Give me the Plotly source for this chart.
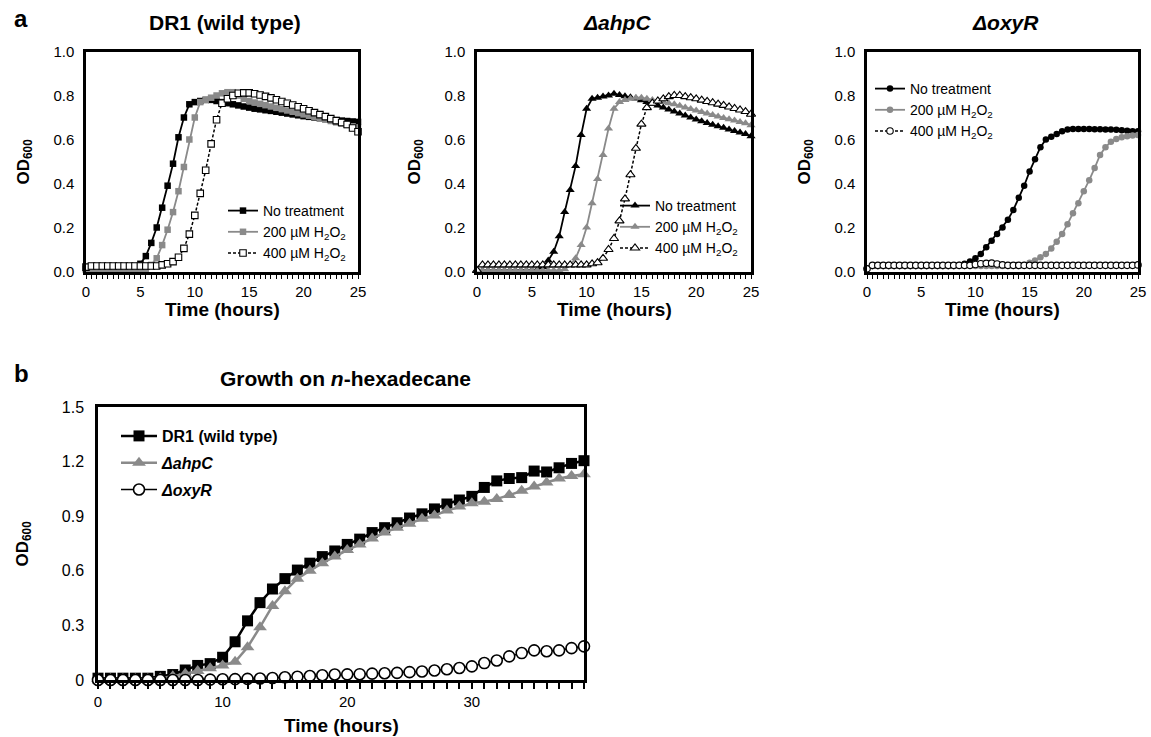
import plotly.graph_objects as go

# ---------------- data ----------------
time_a = [0, 0.5, 1, 1.5, 2, 2.5, 3, 3.5, 4, 4.5,
          5, 5.5, 6, 6.5, 7, 7.5, 8, 8.5, 9, 9.5,
          10, 10.5, 11, 11.5, 12, 12.5, 13, 13.5, 14, 14.5,
          15, 15.5, 16, 16.5, 17, 17.5, 18, 18.5, 19, 19.5,
          20, 20.5, 21, 21.5, 22, 22.5, 23, 23.5, 24, 24.5,
          25]

dr1_nt = [0.01, 0.008, 0.006, 0.006, 0.006, 0.006, 0.008, 0.01, 0.013, 0.02,
          0.035, 0.07, 0.13, 0.2, 0.29, 0.39, 0.49, 0.61, 0.7, 0.76,
          0.77, 0.775, 0.78, 0.78, 0.775, 0.77, 0.765, 0.76, 0.755, 0.75,
          0.745, 0.74, 0.737, 0.733, 0.73, 0.726, 0.722, 0.718, 0.714, 0.71,
          0.706, 0.703, 0.7, 0.697, 0.694, 0.691, 0.688, 0.686, 0.684, 0.682,
          0.68]
dr1_200 = [0.01, 0.006, 0.005, 0.005, 0.005, 0.005, 0.005, 0.005, 0.006, 0.007,
           0.008, 0.012, 0.03, 0.06, 0.12, 0.19, 0.27, 0.365, 0.475, 0.6,
           0.7, 0.77, 0.78, 0.79, 0.8, 0.81, 0.815, 0.815, 0.8, 0.785,
           0.775, 0.768, 0.762, 0.756, 0.75, 0.744, 0.738, 0.732, 0.726, 0.72,
           0.714, 0.708, 0.702, 0.696, 0.69, 0.684, 0.678, 0.672, 0.666, 0.66,
           0.655]
dr1_400 = [0.02, 0.025, 0.025, 0.025, 0.025, 0.025, 0.025, 0.025, 0.025, 0.025,
           0.025, 0.025, 0.025, 0.025, 0.03, 0.035, 0.045, 0.065, 0.105, 0.17,
           0.255, 0.355, 0.46, 0.58, 0.69, 0.765, 0.785, 0.8, 0.81, 0.812,
           0.812, 0.808, 0.802, 0.796, 0.789, 0.781, 0.773, 0.765, 0.757, 0.749,
           0.74, 0.731, 0.722, 0.713, 0.704, 0.695, 0.686, 0.677, 0.668, 0.652,
           0.635]

ahpc_nt = [0.005, 0.005, 0.005, 0.005, 0.005, 0.005, 0.005, 0.005, 0.005, 0.005,
           0.005, 0.008, 0.02, 0.05, 0.09, 0.16, 0.27, 0.37, 0.48, 0.62,
           0.74, 0.785, 0.79, 0.795, 0.8, 0.808, 0.802, 0.797, 0.792, 0.786,
           0.778, 0.77, 0.762, 0.754, 0.745, 0.736, 0.727, 0.718, 0.709, 0.7,
           0.691, 0.683, 0.675, 0.667, 0.66, 0.653, 0.646, 0.639, 0.632, 0.625,
           0.615]
ahpc_200 = [0.005, 0.005, 0.005, 0.005, 0.005, 0.005, 0.005, 0.005, 0.005, 0.005,
            0.005, 0.005, 0.005, 0.005, 0.005, 0.005, 0.01, 0.03, 0.06, 0.12,
            0.2, 0.31, 0.42, 0.53, 0.65, 0.74, 0.77, 0.78, 0.785, 0.79,
            0.79, 0.785, 0.78, 0.775, 0.77, 0.765, 0.76, 0.753, 0.746, 0.739,
            0.732, 0.725, 0.718, 0.711, 0.704, 0.698, 0.692, 0.686, 0.68, 0.674,
            0.665]
ahpc_400 = [0.005, 0.03, 0.03, 0.03, 0.03, 0.03, 0.03, 0.03, 0.03, 0.03,
            0.03, 0.03, 0.03, 0.03, 0.03, 0.03, 0.03, 0.03, 0.03, 0.03,
            0.03, 0.035, 0.04, 0.06, 0.1, 0.15, 0.23, 0.33, 0.44, 0.56,
            0.67, 0.745, 0.765, 0.775, 0.785, 0.795, 0.8, 0.8, 0.795, 0.79,
            0.785, 0.779, 0.773, 0.767, 0.761, 0.755, 0.748, 0.741, 0.734, 0.727,
            0.715]

oxyr_nt = [0.015, 0.025, 0.025, 0.025, 0.025, 0.025, 0.025, 0.025, 0.025, 0.025,
           0.025, 0.025, 0.025, 0.025, 0.025, 0.025, 0.025, 0.03, 0.035, 0.045,
           0.06, 0.08, 0.11, 0.14, 0.17, 0.2, 0.235, 0.28, 0.335, 0.39,
           0.455, 0.51, 0.565, 0.6, 0.613, 0.625, 0.637, 0.645, 0.648, 0.648,
           0.648, 0.648, 0.647, 0.647, 0.646, 0.645, 0.644, 0.642, 0.64, 0.638,
           0.637]
oxyr_200 = [0.015, 0.025, 0.025, 0.025, 0.025, 0.025, 0.025, 0.025, 0.025, 0.025,
            0.025, 0.025, 0.025, 0.025, 0.025, 0.025, 0.025, 0.025, 0.025, 0.025,
            0.025, 0.025, 0.025, 0.025, 0.025, 0.025, 0.025, 0.025, 0.025, 0.03,
            0.04, 0.05, 0.065, 0.08, 0.105, 0.135, 0.17, 0.215, 0.265, 0.31,
            0.365, 0.415, 0.47, 0.53, 0.565, 0.59, 0.602, 0.61, 0.615, 0.618,
            0.62]
oxyr_400 = [0.012, 0.028, 0.028, 0.028, 0.028, 0.028, 0.028, 0.028, 0.028, 0.028,
            0.028, 0.028, 0.028, 0.028, 0.028, 0.028, 0.028, 0.028, 0.028, 0.028,
            0.032, 0.035, 0.037, 0.038, 0.034, 0.03, 0.028, 0.028, 0.028, 0.028,
            0.028, 0.028, 0.028, 0.028, 0.028, 0.028, 0.028, 0.028, 0.028, 0.028,
            0.028, 0.028, 0.028, 0.028, 0.028, 0.028, 0.028, 0.028, 0.028, 0.028,
            0.03]

time_b = [0, 1, 2, 3, 4, 5, 6, 7, 8, 9,
          10, 11, 12, 13, 14, 15, 16, 17, 18, 19,
          20, 21, 22, 23, 24, 25, 26, 27, 28, 29,
          30, 31, 32, 33, 34, 35, 36, 37, 38, 39]
hex_dr1 = [0.01, 0.01, 0.01, 0.01, 0.01, 0.02, 0.03, 0.055, 0.08, 0.09,
           0.125, 0.21, 0.325, 0.425, 0.5, 0.557, 0.604, 0.642, 0.678, 0.709,
           0.745, 0.774, 0.81, 0.837, 0.864, 0.89, 0.913, 0.94, 0.967, 0.989,
           1.009, 1.058, 1.094, 1.107, 1.112, 1.148, 1.143, 1.166, 1.19, 1.205]
hex_ahpc = [0.005, 0.005, 0.005, 0.005, 0.005, 0.01, 0.02, 0.035, 0.05, 0.065,
            0.08, 0.1, 0.18, 0.29, 0.407, 0.488, 0.557, 0.6, 0.642, 0.678,
            0.714, 0.745, 0.777, 0.81, 0.837, 0.859, 0.886, 0.904, 0.931, 0.953,
            0.971, 0.98, 0.995, 1.016, 1.04, 1.063, 1.085, 1.107, 1.121, 1.13]
hex_oxyr = [0.0, 0.0, 0.0, 0.0, 0.0, 0.0, 0.0, 0.0, 0.0, 0.002,
            0.004, 0.005, 0.006, 0.008, 0.011, 0.015, 0.018, 0.022, 0.026, 0.03,
            0.031, 0.032, 0.035, 0.037, 0.039, 0.043, 0.047, 0.052, 0.059, 0.066,
            0.075, 0.093, 0.107, 0.13, 0.148, 0.163, 0.158, 0.163, 0.175, 0.185]

treat_labels = ["No treatment", "200 µM H<sub>2</sub>O<sub>2</sub>", "400 µM H<sub>2</sub>O<sub>2</sub>"]
strain_labels = ["<b>DR1 (wild type)</b>", "<b><i>ΔahpC</i></b>", "<b><i>ΔoxyR</i></b>"]
panel_titles = ["<b>DR1 (wild type)</b>", "<b><i>ΔahpC</i></b>", "<b><i>ΔoxyR</i></b>"]
ya_ticks = [0, 0.2, 0.4, 0.6, 0.8, 1.0]
ya_text = ["0.0", "0.2", "0.4", "0.6", "0.8", "1.0"]
yb_ticks = [0, 0.3, 0.6, 0.9, 1.2, 1.5]
yb_text = ["0", "0.3", "0.6", "0.9", "1.2", "1.5"]

# ---------------- layout helpers ----------------
W, H = 1151, 737
FONT = "Arial, Liberation Sans, sans-serif"
BLACK = "#000000"
GRAY = "#8a8a8a"

def px_x(p):
    return p / W

def px_y(p):
    return 1 - p / H

def label(fig, x, y, text, size, angle=0, xanchor="center"):
    fig.add_annotation(x=px_x(x), y=px_y(y), xref="paper", yref="paper",
                       xanchor=xanchor, yanchor="middle", text=text,
                       textangle=angle, showarrow=False,
                       font=dict(size=size, color=BLACK, family=FONT))

fig = go.Figure()

panels_a = [
    (dict(x0=86, x1=358), [dr1_nt, dr1_200, dr1_400], "square", 6.5, "legend"),
    (dict(x0=477, x1=751), [ahpc_nt, ahpc_200, ahpc_400], "triangle-up", 8, "legend2"),
    (dict(x0=867, x1=1138), [oxyr_nt, oxyr_200, oxyr_400], "circle", 6.5, "legend3"),
]
top_a, bot_a = 51.5, 271.5

for i, (pos, series, sym, msize, leg) in enumerate(panels_a):
    k = "" if i == 0 else str(i + 1)
    styles = [
        dict(line=dict(color=BLACK, width=1.8),
             marker=dict(symbol=sym, size=msize, color=BLACK)),
        dict(line=dict(color=GRAY, width=1.8),
             marker=dict(symbol=sym, size=msize, color=GRAY)),
        dict(line=dict(color=BLACK, width=1.5, dash="3px,2px"),
             marker=dict(symbol=sym, size=msize, color="white",
                         line=dict(color=BLACK, width=1.1))),
    ]
    for j, ys in enumerate(series):
        fig.add_trace(go.Scatter(
            x=time_a, y=ys, mode="lines+markers", name=treat_labels[j],
            xaxis="x" + k, yaxis="y" + k, legend=leg, legendgroup=f"g{i}{j}",
            cliponaxis=False, **styles[j]))
    fig.layout["xaxis" + k] = dict(
        domain=[px_x(pos["x0"]), px_x(pos["x1"])], range=[0, 25],
        anchor="y" + k, showline=True, linecolor=BLACK, linewidth=2.5, mirror=True,
        showgrid=False, zeroline=False, ticks="outside", ticklen=5, tickwidth=1.3,
        tickcolor=BLACK, tickmode="array", tickvals=[0, 5, 10, 15, 20, 25],
        minor=dict(dtick=0.5, ticks="outside", ticklen=5, tickwidth=1.3, tickcolor=BLACK,
                   showgrid=False),
        tickfont=dict(size=15, color=BLACK, family=FONT), automargin=False)
    fig.layout["yaxis" + k] = dict(
        domain=[px_y(bot_a), px_y(top_a)], range=[0, 1.0], anchor="x" + k,
        showline=True, linecolor=BLACK, linewidth=2.5, mirror=True,
        showgrid=False, zeroline=False, ticks="", tickmode="array",
        tickvals=ya_ticks, ticktext=ya_text, ticklabelstandoff=6,
        tickfont=dict(size=15, color=BLACK, family=FONT), automargin=False)
    cx = (pos["x0"] + pos["x1"]) / 2
    label(fig, cx + 3, 23, panel_titles[i], 21)
    label(fig, cx, 309, "<b>Time (hours)</b>", 19)
    label(fig, pos["x0"] - 62, (top_a + bot_a) / 2, "<b>OD<sub>600</sub></b>", 17, angle=-90)

# ---------------- panel b ----------------
bx0, bx1, btop, bbot = 98, 584, 407, 680
styles_b = [
    dict(line=dict(color=BLACK, width=2.5),
         marker=dict(symbol="square", size=11, color=BLACK)),
    dict(line=dict(color=GRAY, width=2.5),
         marker=dict(symbol="triangle-up", size=12, color=GRAY)),
    dict(line=dict(color=BLACK, width=1.6),
         marker=dict(symbol="circle", size=11, color="white",
                     line=dict(color=BLACK, width=1.6))),
]
for j, ys in enumerate([hex_dr1, hex_ahpc, hex_oxyr]):
    fig.add_trace(go.Scatter(
        x=time_b, y=ys, mode="lines+markers", name=strain_labels[j],
        xaxis="x4", yaxis="y4", legend="legend4", legendgroup=f"b{j}",
        cliponaxis=False, **styles_b[j]))
fig.layout["xaxis4"] = dict(
    domain=[px_x(bx0), px_x(bx1)], range=[0, 39], anchor="y4",
    showline=True, linecolor=BLACK, linewidth=2.5, mirror=True,
    showgrid=False, zeroline=False, ticks="outside", ticklen=6, tickwidth=1.5,
    tickcolor=BLACK, tickmode="array", tickvals=[0, 10, 20, 30],
    minor=dict(dtick=1, ticks="outside", ticklen=6, tickwidth=1.5, tickcolor=BLACK,
               showgrid=False),
    tickfont=dict(size=15, color=BLACK, family=FONT), automargin=False)
fig.layout["yaxis4"] = dict(
    domain=[px_y(bbot), px_y(btop)], range=[0, 1.5], anchor="x4",
    showline=True, linecolor=BLACK, linewidth=2.5, mirror=True,
    showgrid=False, zeroline=False, ticks="", tickmode="array",
    tickvals=yb_ticks, ticktext=yb_text, ticklabelstandoff=8,
    tickfont=dict(size=16, color=BLACK, family=FONT), automargin=False)
label(fig, (bx0 + bx1) / 2 + 4, 378, "<b>Growth on <i>n</i>-hexadecane</b>", 21)
label(fig, (bx0 + bx1) / 2, 725, "<b>Time (hours)</b>", 19)
label(fig, 23, (btop + bbot) / 2, "<b>OD<sub>600</sub></b>", 17, angle=-90)

# panel letters
label(fig, 12, 19, "<b>a</b>", 24, xanchor="left")
label(fig, 12, 373, "<b>b</b>", 24, xanchor="left")

leg_common = dict(xanchor="left", yanchor="top", bgcolor="rgba(0,0,0,0)",
                  borderwidth=0, itemwidth=30, traceorder="grouped", tracegroupgap=0,
                  font=dict(size=14, color=BLACK, family=FONT))
leg_b = dict(leg_common)
leg_b.update(font=dict(size=16, color=BLACK, family=FONT), tracegroupgap=3, itemwidth=36)
fig.update_layout(
    width=W, height=H, margin=dict(l=0, r=0, t=0, b=0),
    paper_bgcolor="white", plot_bgcolor="white",
    font=dict(family=FONT, color=BLACK),
    showlegend=True,
    legend=dict(x=px_x(223), y=px_y(195), **leg_common),
    legend2=dict(x=px_x(615), y=px_y(190), **leg_common),
    legend3=dict(x=px_x(870), y=px_y(73), **leg_common),
    legend4=dict(x=px_x(116), y=px_y(419), **leg_b),
)

fig.write_html("out.html", config=dict(displayModeBar=False),
               post_script="document.body.style.margin='0';document.body.style.overflow='hidden';")
